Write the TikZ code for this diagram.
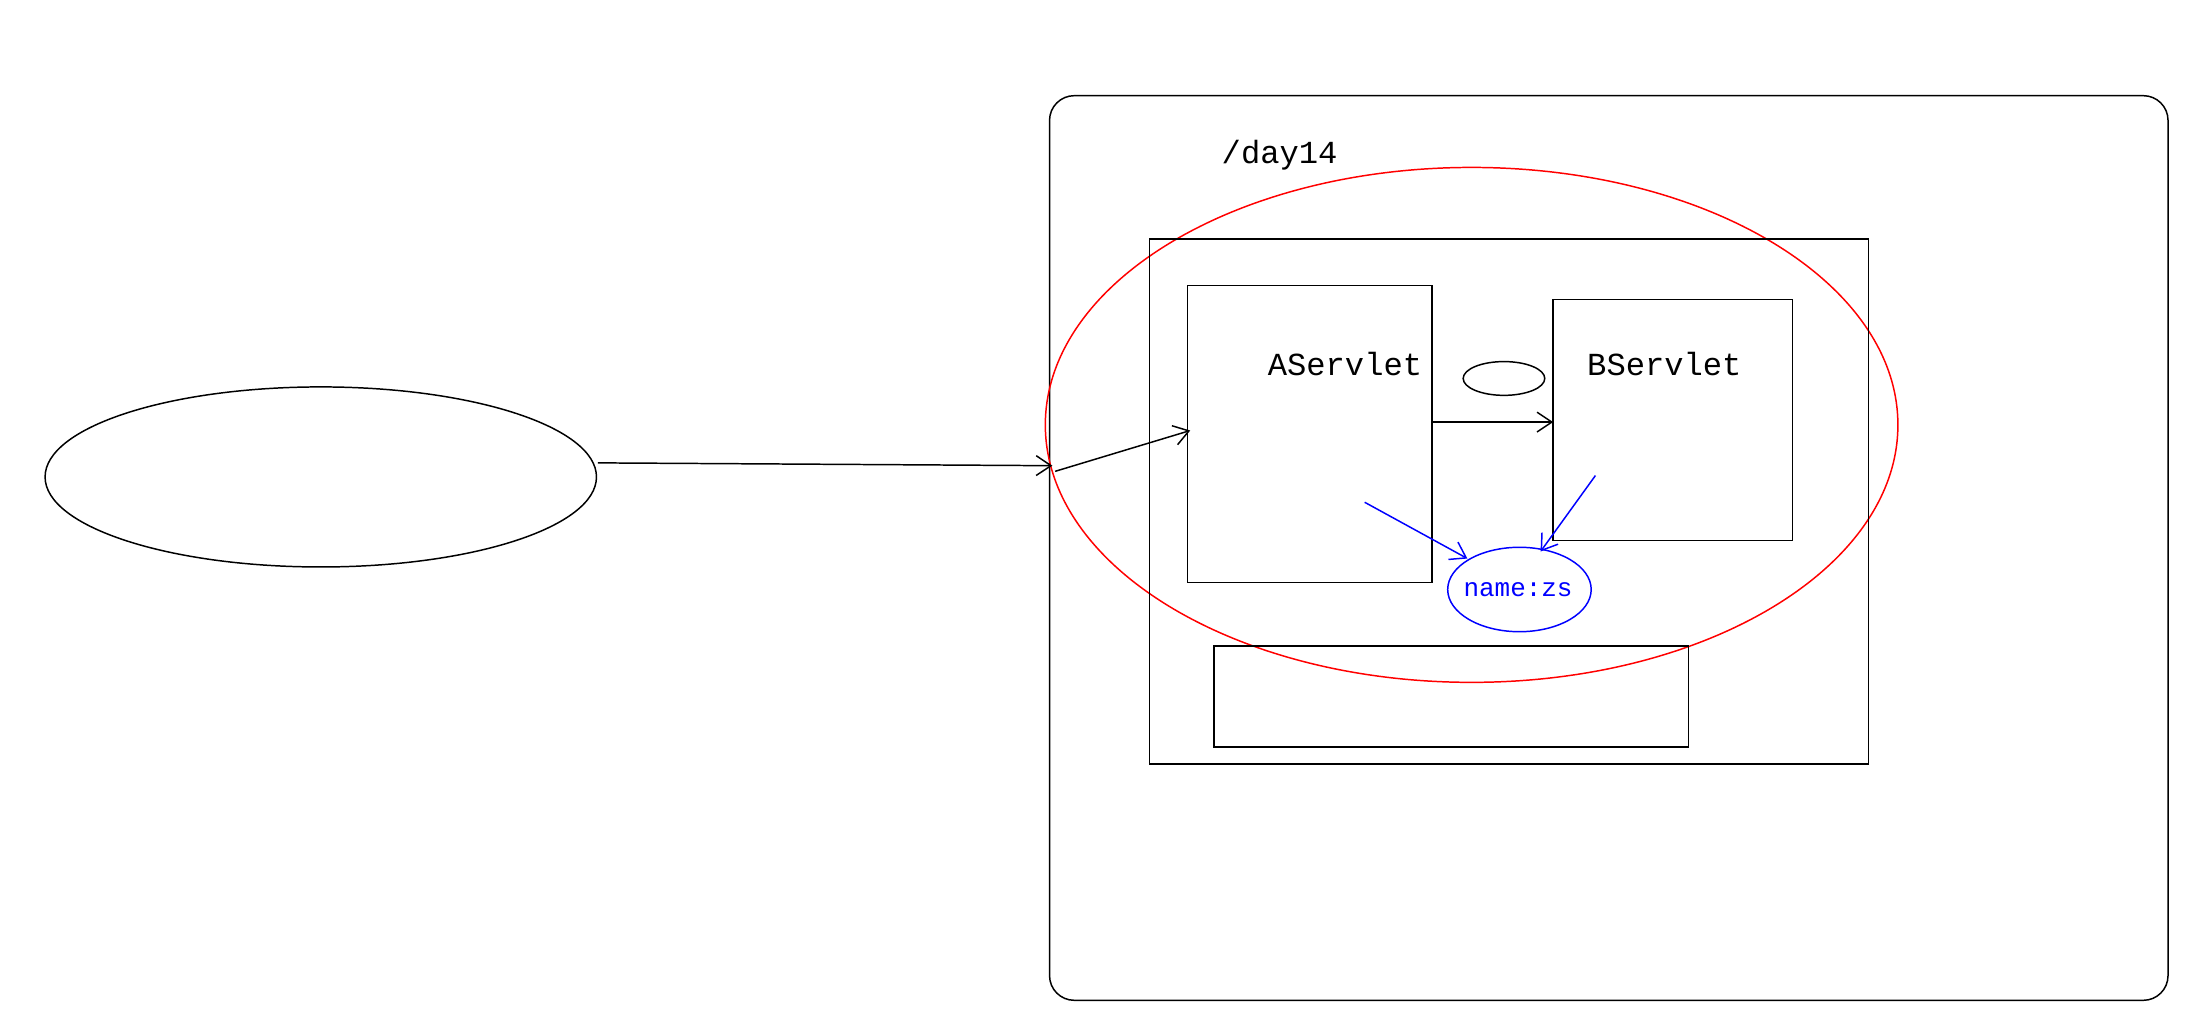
\documentclass[tikz,border=0pt]{standalone}
\usepackage{fontspec}
\setmonofont{Liberation Mono}
\usetikzlibrary{arrows.meta,shapes.geometric}
\begin{document}
\begin{tikzpicture}[x=0.02cm,y=-0.02cm,line width=0.6pt,
  lbl/.style={font=\ttfamily\fontsize{13}{15}\selectfont},
  arr/.style={-{Straight Barb[length=6pt,width=8pt]}},
  blu/.style={draw=blue,arr}]
\useasboundingbox (0,0) rectangle (1568,724);
\node[draw,ellipse,minimum width=7.84cm,minimum height=2.56cm,inner sep=0] (client) at (228,339) {};
\coordinate (ce) at (425,329);
\draw[rounded corners=10] (746,68) rectangle (1541,711);
\node[lbl,anchor=west] (day) at (862,110) {/day14};
\draw[red] (1046,302) ellipse (303 and 183);
\draw (817,170) rectangle (1328,543);
\draw (844,203) rectangle (1018,414);
\coordinate (Ain) at (846,306);
\node[lbl] (A) at (956,259) {AServlet};
\draw (1104,213) rectangle (1274,384);
\node[lbl] (B) at (1183,259) {BServlet};
\draw (1069,269) ellipse (29 and 12);
\coordinate (Aout) at (1018,300);
\coordinate (Bin) at (1104,300);
\draw[arr] (Aout) -- (Bin);
\draw[blue] (1080,419) ellipse (51 and 30);
\node[text=blue,font=\ttfamily\fontsize{10.5}{12}\selectfont] (ctx) at (1079,419) {name:zs};
\coordinate (redin) at (748,331);
\draw[arr] (ce) -- (588,330) -- (redin);
\draw[arr] (750,335) -- (Ain);
\coordinate (b1) at (970,357);
\coordinate (b2) at (1134,338);
\draw[blu] (b1) -- (1043,397);
\draw[blu] (b2) -- (1095,392);
\draw (863,459) rectangle (1200,531);
\end{tikzpicture}
\end{document}
